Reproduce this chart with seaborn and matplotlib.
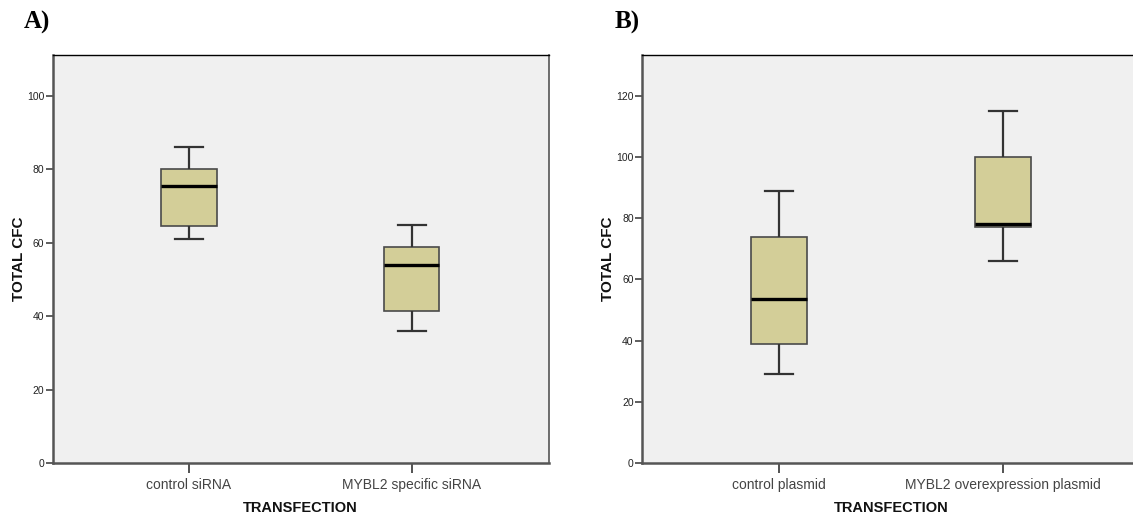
import matplotlib
matplotlib.use("Agg")
import matplotlib.pyplot as plt
import seaborn as sns
import pandas as pd

# ---------------- data (five-number summaries) -------------
a_categories = ["control siRNA", "MYBL2 specific siRNA"]
a_control = [61, 64.5, 75.5, 80, 86]      # min, Q1, median, Q3, max
a_mybl2 = [36, 41.5, 54, 59, 65]
a_yticks = [0, 20, 40, 60, 80, 100]

b_categories = ["control plasmid", "MYBL2 overexpression plasmid"]
b_control = [29, 39, 53.5, 74, 89]
b_mybl2 = [66, 77, 78, 100, 115]
b_yticks = [0, 20, 40, 60, 80, 100, 120]

x_label = "TRANSFECTION"
y_label = "TOTAL CFC"
panel_labels = ["A)", "B)"]

# ---------------- styling ----------------
W, H = 1133, 517
FILL = "#D3CE98"
BG = "#F0F0F0"
SANS = ["Liberation Sans", "DejaVu Sans"]
SERIF = ["Liberation Serif", "DejaVu Serif"]

fig = plt.figure(figsize=(W / 100, H / 100), dpi=100)
fig.patch.set_facecolor("white")


def panel(rect, cats, groups, yticks, ylim, xlim, cat_mid_px, ylab_x_px):
    ax = fig.add_axes(rect)
    rows = []
    for c, vals in zip(cats, groups):
        for v in vals:
            rows.append({x_label: c, y_label: v})
    df = pd.DataFrame(rows)
    sns.boxplot(
        data=df, x=x_label, y=y_label, order=cats, ax=ax,
        width=0.25, color=FILL, saturation=1, linecolor="#4a4a4a",
        linewidth=1.2, whis=(0, 100), showfliers=False,
        medianprops=dict(color="black", linewidth=2.4),
        whiskerprops=dict(color="#333333", linewidth=1.6),
        capprops=dict(color="#333333", linewidth=1.6),
    )
    ax.set_facecolor(BG)
    ax.set_xlim(*xlim)
    ax.set_ylim(*ylim)
    ax.set_yticks(yticks)
    ax.set_yticklabels([str(t) for t in yticks], fontfamily=SANS)
    for lab in ax.get_xticklabels():
        lab.set_fontfamily(SANS)
    ax.tick_params(axis="y", length=5, width=1.1, color="#333333",
                   labelsize=7.5, pad=1, labelcolor="#222222")
    ax.tick_params(axis="x", length=7, width=1.3, color="#444444",
                   labelsize=10, pad=4, labelcolor="#444444")
    ax.grid(False)
    for side in ["left", "bottom"]:
        ax.spines[side].set_color("#555555")
        ax.spines[side].set_linewidth(1.8)
    ax.spines["top"].set_color("black")
    ax.spines["top"].set_linewidth(1.0)
    ax.spines["right"].set_color("#555555")
    ax.spines["right"].set_linewidth(1.2)

    ax.set_xlabel(x_label, fontfamily=SANS, fontsize=10.5, fontweight="bold",
                  color="#111111", va="center")
    ax.xaxis.set_label_coords(cat_mid_px / W, 1 - 508 / H, transform=fig.transFigure)
    ax.set_ylabel(y_label, fontfamily=SANS, fontsize=11, fontweight="bold",
                  color="#111111", va="center")
    ax.yaxis.set_label_coords(ylab_x_px / W, 1 - 259 / H, transform=fig.transFigure)
    return ax


# Panel A axes: x 52.7..549 px, y 55..463 px
axA = panel([52.7 / W, 1 - 463 / H, (549 - 52.7) / W, (463 - 55) / H],
            a_categories, [a_control, a_mybl2], a_yticks,
            (0, 111.2), (-0.612, 1.617), 300, 19)

# Panel B axes: x 642..1140 px (right edge beyond the image), y 54.5..463 px
axB = panel([642 / W, 1 - 463 / H, (1140 - 642) / W, (463 - 54.5) / H],
            b_categories, [b_control, b_mybl2], b_yticks,
            (0, 133.5), (-0.61, 1.61), 891, 607.5)

fig.text(37 / W, 1 - 22 / H, panel_labels[0], fontfamily=SERIF, fontsize=18,
         fontweight="bold", ha="center", va="center")
fig.text(627.5 / W, 1 - 22 / H, panel_labels[1], fontfamily=SERIF, fontsize=18,
         fontweight="bold", ha="center", va="center")

fig.savefig("out.png", dpi=100)
